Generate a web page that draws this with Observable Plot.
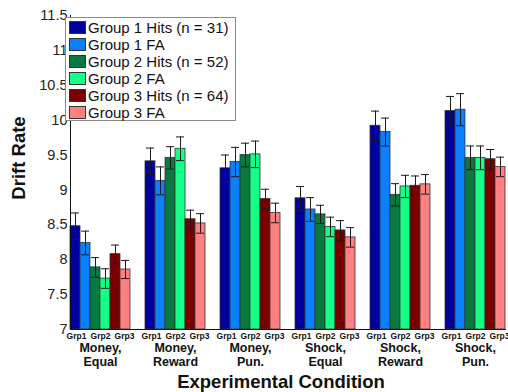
<!DOCTYPE html>
<html>
<head>
<meta charset="utf-8">
<script src="https://cdn.jsdelivr.net/npm/d3@7"></script>
<script src="https://cdn.jsdelivr.net/npm/@observablehq/plot@0.6"></script>
<style>
  html, body { margin: 0; padding: 0; background: #fff; }
  #wrap { position: relative; width: 508px; height: 392px; font-family: "Liberation Sans", Arial, sans-serif; }
  #legend { position: absolute; left: 65px; top: 17px; width: 171px; height: 104px; border: 1px solid #8a8a8a; background: #fff; box-sizing: border-box; padding-top: 1px; }
  .li { display: flex; align-items: center; height: 17px; font-size: 15px; color: #111; white-space: nowrap; }
  .sw { width: 17px; height: 13px; border: 1px solid #333; margin: 0 2px 0 3px; box-sizing: border-box; }
  .title { position: absolute; font-weight: bold; color: #111; white-space: nowrap; }
</style>
</head>
<body>
<div id="wrap"></div>
<script>
// ---- data ----
const conditions = ["Money,\nEqual", "Money,\nReward", "Money,\nPun.", "Shock,\nEqual", "Shock,\nReward", "Shock,\nPun."];
const seriesNames = ["Group 1 Hits (n = 31)", "Group 1 FA", "Group 2 Hits (n = 52)", "Group 2 FA", "Group 3 Hits (n = 64)", "Group 3 FA"];
const seriesColors = ["#00009e", "#0a80ff", "#087a40", "#14ff88", "#7a0000", "#ff8080"];
const grpLabels = ["Grp1", "Grp2", "Grp3"];
const yTicks = [7, 7.5, 8, 8.5, 9, 9.5, 10, 10.5, 11, 11.5];
const yTickLabels = ["7", "7.5", "8", "8.5", "9", "9.5", "10", "10.5", "11", "11.5"];

const g1Hits = [8.48, 9.41, 9.31, 8.88, 9.92, 10.13];
const g1FA   = [8.24, 9.13, 9.40, 8.72, 9.83, 10.15];
const g2Hits = [7.89, 9.46, 9.50, 8.65, 8.93, 9.46];
const g2FA   = [7.73, 9.59, 9.51, 8.47, 9.05, 9.46];
const g3Hits = [8.08, 8.58, 8.87, 8.42, 9.06, 9.44];
const g3FA   = [7.86, 8.52, 8.67, 8.32, 9.08, 9.33];

const g1HitsErr = [0.19, 0.19, 0.19, 0.17, 0.21, 0.21];
const g1FAErr   = [0.17, 0.20, 0.21, 0.17, 0.20, 0.23];
const g2HitsErr = [0.14, 0.16, 0.17, 0.13, 0.16, 0.17];
const g2FAErr   = [0.14, 0.17, 0.19, 0.14, 0.16, 0.17];
const g3HitsErr = [0.13, 0.13, 0.14, 0.14, 0.14, 0.14];
const g3FAErr   = [0.13, 0.14, 0.14, 0.14, 0.14, 0.14];

const xTitle = "Experimental Condition";
const yTitle = "Drift Rate";

// ---- build table ----
const means = [g1Hits, g1FA, g2Hits, g2FA, g3Hits, g3FA];
const errs = [g1HitsErr, g1FAErr, g2HitsErr, g2FAErr, g3HitsErr, g3FAErr];
const rows = [];
conditions.forEach((c, ci) => {
  seriesNames.forEach((s, si) => {
    rows.push({cond: c, series: s, value: means[si][ci], err: errs[si][ci]});
  });
});

const grpMarks = grpLabels.map((g, k) =>
  Plot.text(conditions, {
    fx: d => d, x: () => seriesNames[2 * k], text: () => g,
    frameAnchor: "bottom", lineAnchor: "top", dy: 3, dx: 1 + 4 * k,
    fontSize: 8.5, fontWeight: "bold", fill: "#111"
  })
);

const chart = Plot.plot({
  width: 508, height: 392,
  marginLeft: 64, marginRight: 0, marginTop: 15, marginBottom: 63,
  style: {fontFamily: "'Liberation Sans', Arial, sans-serif", background: "white", color: "#111"},
  fx: {domain: conditions, range: [64, 511], paddingInner: 0.2, paddingOuter: 0.08, label: null},
  x: {domain: seriesNames, padding: 0, axis: null},
  y: {domain: [yTicks[0], yTicks[yTicks.length - 1]], label: null},
  color: {domain: seriesNames, range: seriesColors},
  marks: [
    Plot.barY(rows, {fx: "cond", x: "series", y1: yTicks[0], y2: "value", fill: "series", stroke: "#333", strokeWidth: 0.8}),
    Plot.ruleX(rows, {fx: "cond", x: "series", y1: d => d.value - d.err, y2: d => d.value + d.err, stroke: "#1a1a1a", strokeWidth: 1}),
    Plot.tickY(rows, {fx: "cond", x: "series", y: d => d.value + d.err, stroke: "#1a1a1a", insetLeft: 1, insetRight: 1}),
    Plot.tickY(rows, {fx: "cond", x: "series", y: d => d.value - d.err, stroke: "#1a1a1a", insetLeft: 1, insetRight: 1}),
    Plot.axisY({ticks: yTicks, tickFormat: d => yTickLabels[yTicks.indexOf(d)], tickSize: 0, tickPadding: 3, fontSize: 14.5, fill: "#222", label: null}),
    Plot.axisFx({anchor: "bottom", tickSize: 0, tickPadding: 13, fontSize: 12.5, fontWeight: "bold", lineHeight: 1.12, fill: "#111", label: null}),
    ...grpMarks,
    Plot.frame({anchor: "left", facet: "super", stroke: "#111"}),
    Plot.frame({anchor: "bottom", facet: "super", stroke: "#111"})
  ]
});

const wrap = document.getElementById("wrap");
wrap.appendChild(chart);

// legend overlay
const legend = document.createElement("div");
legend.id = "legend";
seriesNames.forEach((s, i) => {
  const li = document.createElement("div");
  li.className = "li";
  const sw = document.createElement("span");
  sw.className = "sw";
  sw.style.background = seriesColors[i];
  li.appendChild(sw);
  li.appendChild(document.createTextNode(s));
  legend.appendChild(li);
});
wrap.appendChild(legend);

// axis titles
const xt = document.createElement("div");
xt.className = "title";
xt.textContent = xTitle;
xt.style.fontSize = "18.5px";
xt.style.left = "281px";
xt.style.top = "382px";
xt.style.transform = "translate(-50%, -50%)";
wrap.appendChild(xt);

const yt = document.createElement("div");
yt.className = "title";
yt.textContent = yTitle;
yt.style.fontSize = "18.5px";
yt.style.left = "19px";
yt.style.top = "158px";
yt.style.transform = "translate(-50%, -50%) rotate(-90deg)";
wrap.appendChild(yt);
</script>
</body>
</html>
